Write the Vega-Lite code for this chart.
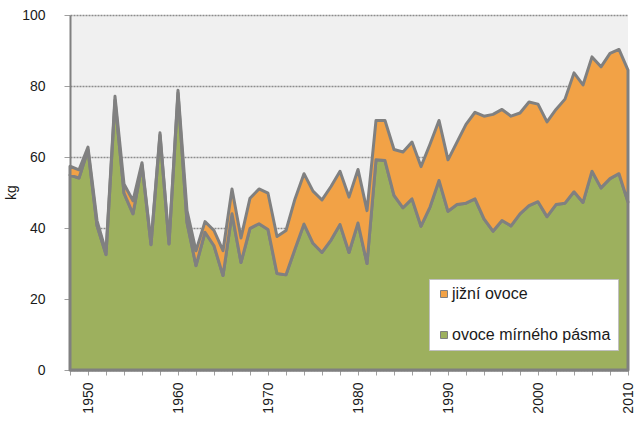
{
  "$schema": "https://vega.github.io/schema/vega-lite/v6.json",
  "autosize": {"type": "none"},
  "padding": {"left": 70, "top": 15, "right": 7, "bottom": 51},
  "width": 558,
  "height": 355,
  "background": "#ffffff",
  "config": {
    "font": "Liberation Sans",
    "view": {"fill": "#f0f0f0", "stroke": null}
  },
  "data": {
    "values": [
      {"year":1948,"kind":"ovoce mírného pásma","kg":54.9},{"year":1948,"kind":"jižní ovoce","kg":2.5},
      {"year":1949,"kind":"ovoce mírného pásma","kg":54.1},{"year":1949,"kind":"jižní ovoce","kg":2.3},
      {"year":1950,"kind":"ovoce mírného pásma","kg":62.0},{"year":1950,"kind":"jižní ovoce","kg":0.8},
      {"year":1951,"kind":"ovoce mírného pásma","kg":40.7},{"year":1951,"kind":"jižní ovoce","kg":1.4},
      {"year":1952,"kind":"ovoce mírného pásma","kg":32.5},{"year":1952,"kind":"jižní ovoce","kg":0.8},
      {"year":1953,"kind":"ovoce mírného pásma","kg":76.0},{"year":1953,"kind":"jižní ovoce","kg":1.1},
      {"year":1954,"kind":"ovoce mírného pásma","kg":49.8},{"year":1954,"kind":"jižní ovoce","kg":2.6},
      {"year":1955,"kind":"ovoce mírného pásma","kg":44.0},{"year":1955,"kind":"jižní ovoce","kg":3.7},
      {"year":1956,"kind":"ovoce mírného pásma","kg":57.8},{"year":1956,"kind":"jižní ovoce","kg":0.6},
      {"year":1957,"kind":"ovoce mírného pásma","kg":35.3},{"year":1957,"kind":"jižní ovoce","kg":0.5},
      {"year":1958,"kind":"ovoce mírného pásma","kg":66.2},{"year":1958,"kind":"jižní ovoce","kg":0.6},
      {"year":1959,"kind":"ovoce mírného pásma","kg":35.5},{"year":1959,"kind":"jižní ovoce","kg":0.5},
      {"year":1960,"kind":"ovoce mírného pásma","kg":78.0},{"year":1960,"kind":"jižní ovoce","kg":0.8},
      {"year":1961,"kind":"ovoce mírného pásma","kg":41.6},{"year":1961,"kind":"jižní ovoce","kg":3.3},
      {"year":1962,"kind":"ovoce mírného pásma","kg":29.4},{"year":1962,"kind":"jižní ovoce","kg":4.2},
      {"year":1963,"kind":"ovoce mírného pásma","kg":38.8},{"year":1963,"kind":"jižní ovoce","kg":3.0},
      {"year":1964,"kind":"ovoce mírného pásma","kg":35.0},{"year":1964,"kind":"jižní ovoce","kg":4.3},
      {"year":1965,"kind":"ovoce mírného pásma","kg":26.6},{"year":1965,"kind":"jižní ovoce","kg":7.0},
      {"year":1966,"kind":"ovoce mírného pásma","kg":44.0},{"year":1966,"kind":"jižní ovoce","kg":7.0},
      {"year":1967,"kind":"ovoce mírného pásma","kg":30.3},{"year":1967,"kind":"jižní ovoce","kg":6.9},
      {"year":1968,"kind":"ovoce mírného pásma","kg":39.9},{"year":1968,"kind":"jižní ovoce","kg":8.5},
      {"year":1969,"kind":"ovoce mírného pásma","kg":41.2},{"year":1969,"kind":"jižní ovoce","kg":9.8},
      {"year":1970,"kind":"ovoce mírného pásma","kg":39.6},{"year":1970,"kind":"jižní ovoce","kg":10.2},
      {"year":1971,"kind":"ovoce mírného pásma","kg":27.2},{"year":1971,"kind":"jižní ovoce","kg":10.4},
      {"year":1972,"kind":"ovoce mírného pásma","kg":26.8},{"year":1972,"kind":"jižní ovoce","kg":12.5},
      {"year":1973,"kind":"ovoce mírného pásma","kg":34.1},{"year":1973,"kind":"jižní ovoce","kg":14.1},
      {"year":1974,"kind":"ovoce mírného pásma","kg":41.1},{"year":1974,"kind":"jižní ovoce","kg":14.2},
      {"year":1975,"kind":"ovoce mírného pásma","kg":35.7},{"year":1975,"kind":"jižní ovoce","kg":14.7},
      {"year":1976,"kind":"ovoce mírného pásma","kg":33.1},{"year":1976,"kind":"jižní ovoce","kg":14.8},
      {"year":1977,"kind":"ovoce mírného pásma","kg":36.6},{"year":1977,"kind":"jižní ovoce","kg":15.1},
      {"year":1978,"kind":"ovoce mírného pásma","kg":41.0},{"year":1978,"kind":"jižní ovoce","kg":15.0},
      {"year":1979,"kind":"ovoce mírného pásma","kg":33.1},{"year":1979,"kind":"jižní ovoce","kg":15.6},
      {"year":1980,"kind":"ovoce mírného pásma","kg":41.4},{"year":1980,"kind":"jižní ovoce","kg":15.1},
      {"year":1981,"kind":"ovoce mírného pásma","kg":30.0},{"year":1981,"kind":"jižní ovoce","kg":14.9},
      {"year":1982,"kind":"ovoce mírného pásma","kg":59.2},{"year":1982,"kind":"jižní ovoce","kg":11.1},
      {"year":1983,"kind":"ovoce mírného pásma","kg":59.0},{"year":1983,"kind":"jižní ovoce","kg":11.3},
      {"year":1984,"kind":"ovoce mírného pásma","kg":49.2},{"year":1984,"kind":"jižní ovoce","kg":12.9},
      {"year":1985,"kind":"ovoce mírného pásma","kg":45.7},{"year":1985,"kind":"jižní ovoce","kg":15.7},
      {"year":1986,"kind":"ovoce mírného pásma","kg":48.2},{"year":1986,"kind":"jižní ovoce","kg":16.0},
      {"year":1987,"kind":"ovoce mírného pásma","kg":40.5},{"year":1987,"kind":"jižní ovoce","kg":16.8},
      {"year":1988,"kind":"ovoce mírného pásma","kg":45.9},{"year":1988,"kind":"jižní ovoce","kg":17.7},
      {"year":1989,"kind":"ovoce mírného pásma","kg":53.4},{"year":1989,"kind":"jižní ovoce","kg":16.9},
      {"year":1990,"kind":"ovoce mírného pásma","kg":44.7},{"year":1990,"kind":"jižní ovoce","kg":14.5},
      {"year":1991,"kind":"ovoce mírného pásma","kg":46.6},{"year":1991,"kind":"jižní ovoce","kg":17.6},
      {"year":1992,"kind":"ovoce mírného pásma","kg":47.0},{"year":1992,"kind":"jižní ovoce","kg":22.2},
      {"year":1993,"kind":"ovoce mírného pásma","kg":48.2},{"year":1993,"kind":"jižní ovoce","kg":24.4},
      {"year":1994,"kind":"ovoce mírného pásma","kg":42.6},{"year":1994,"kind":"jižní ovoce","kg":28.9},
      {"year":1995,"kind":"ovoce mírného pásma","kg":39.1},{"year":1995,"kind":"jižní ovoce","kg":32.9},
      {"year":1996,"kind":"ovoce mírného pásma","kg":42.1},{"year":1996,"kind":"jižní ovoce","kg":31.3},
      {"year":1997,"kind":"ovoce mírného pásma","kg":40.6},{"year":1997,"kind":"jižní ovoce","kg":30.9},
      {"year":1998,"kind":"ovoce mírného pásma","kg":44.0},{"year":1998,"kind":"jižní ovoce","kg":28.4},
      {"year":1999,"kind":"ovoce mírného pásma","kg":46.3},{"year":1999,"kind":"jižní ovoce","kg":29.2},
      {"year":2000,"kind":"ovoce mírného pásma","kg":47.4},{"year":2000,"kind":"jižní ovoce","kg":27.5},
      {"year":2001,"kind":"ovoce mírného pásma","kg":43.2},{"year":2001,"kind":"jižní ovoce","kg":26.7},
      {"year":2002,"kind":"ovoce mírného pásma","kg":46.6},{"year":2002,"kind":"jižní ovoce","kg":26.8},
      {"year":2003,"kind":"ovoce mírného pásma","kg":47.0},{"year":2003,"kind":"jižní ovoce","kg":29.3},
      {"year":2004,"kind":"ovoce mírného pásma","kg":50.2},{"year":2004,"kind":"jižní ovoce","kg":33.5},
      {"year":2005,"kind":"ovoce mírného pásma","kg":47.2},{"year":2005,"kind":"jižní ovoce","kg":33.1},
      {"year":2006,"kind":"ovoce mírného pásma","kg":56.0},{"year":2006,"kind":"jižní ovoce","kg":32.2},
      {"year":2007,"kind":"ovoce mírného pásma","kg":51.3},{"year":2007,"kind":"jižní ovoce","kg":34.1},
      {"year":2008,"kind":"ovoce mírného pásma","kg":53.9},{"year":2008,"kind":"jižní ovoce","kg":35.3},
      {"year":2009,"kind":"ovoce mírného pásma","kg":55.3},{"year":2009,"kind":"jižní ovoce","kg":35.0},
      {"year":2010,"kind":"ovoce mírného pásma","kg":47.3},{"year":2010,"kind":"jižní ovoce","kg":37.2}
    ]
  },
  "mark": {"type": "area", "opacity": 1, "stroke": "#808080", "strokeWidth": 3, "strokeJoin": "round"},
  "encoding": {
    "x": {
      "field": "year", "type": "quantitative",
      "scale": {"domain": [1948, 2010], "nice": false, "zero": false},
      "axis": {
        "title": null,
        "values": [1948,1950,1952,1954,1956,1958,1960,1962,1964,1966,1968,1970,1972,1974,1976,1978,1980,1982,1984,1986,1988,1990,1992,1994,1996,1998,2000,2002,2004,2006,2008,2010],
        "labelExpr": "datum.value % 10 == 0 ? datum.value : ''",
        "labelAngle": -90,
        "labelFontSize": 14,
        "labelColor": "#1a1a1a",
        "labelPadding": 7,
        "labelFlush": false,
        "labelOverlap": false,
        "tickColor": "#a0a0a0",
        "tickSize": 5,
        "domainColor": "#808080",
        "domainWidth": 2,
        "grid": false
      }
    },
    "y": {
      "field": "kg", "type": "quantitative", "stack": "zero",
      "scale": {"domain": [0, 100], "nice": false},
      "axis": {
        "title": "kg",
        "titleFontSize": 14,
        "titleFontWeight": "normal",
        "titleColor": "#1a1a1a",
        "titleX": -52,
        "titleY": 177,
        "values": [0, 20, 40, 60, 80, 100],
        "labelFontSize": 14,
        "labelColor": "#1a1a1a",
        "labelPadding": 19,
        "tickColor": "#a0a0a0",
        "tickSize": 6,
        "domainColor": "#808080",
        "domainWidth": 2,
        "gridColor": "#8c8c8c",
        "gridDash": [2, 1],
        "gridWidth": 1.5
      }
    },
    "color": {
      "field": "kind", "type": "nominal",
      "scale": {"domain": ["jižní ovoce", "ovoce mírného pásma"], "range": ["#F2A246", "#9DB05E"]},
      "legend": {
        "title": null,
        "orient": "none",
        "legendX": 359,
        "legendY": 264,
        "fillColor": "#ffffff",
        "strokeColor": "#c0c0c0",
        "padding": 7,
        "rowPadding": 25,
        "symbolType": "square",
        "symbolSize": 49,
        "symbolStrokeColor": "#808080",
        "symbolStrokeWidth": 1,
        "symbolOpacity": 1,
        "labelFontSize": 16,
        "labelColor": "#1a1a1a",
        "labelOffset": 0,
        "labelLimit": 300
      }
    },
    "order": {"field": "kind", "sort": "descending"}
  }
}
